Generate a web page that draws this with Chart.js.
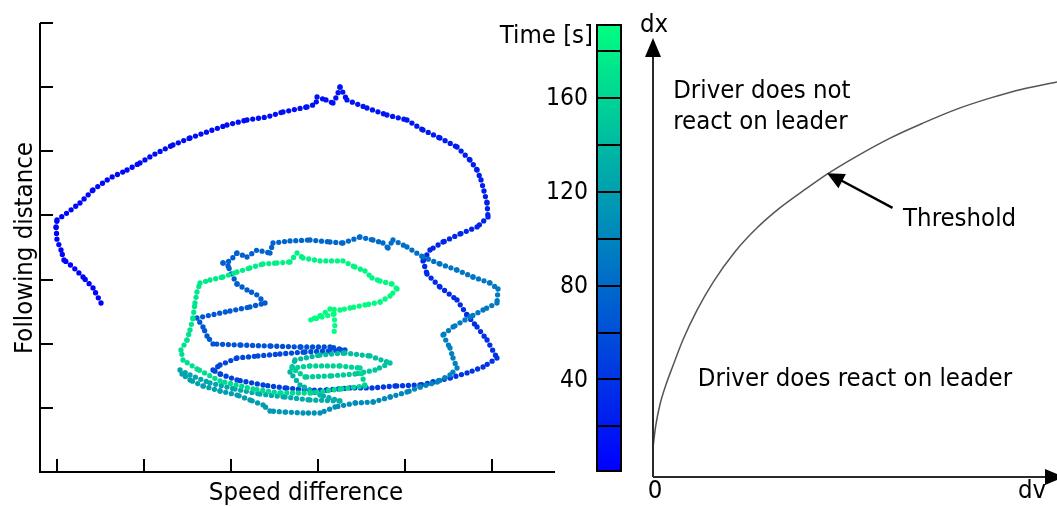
<!DOCTYPE html>
<html>
<head>
<meta charset="utf-8">
<script src="https://cdn.jsdelivr.net/npm/chart.js@4.4.1/dist/chart.umd.min.js"></script>
<style>
  html, body { margin: 0; padding: 0; background: #fff; }
  #wrap { position: relative; width: 1057px; height: 506px; }
  #wrap canvas { position: absolute; left: 0; top: 0; }
</style>
</head>
<body>
<div id="wrap">
  <canvas id="trajChart" width="1057" height="506"></canvas>
  <canvas id="barChart" width="1057" height="506"></canvas>
  <canvas id="schemeChart" width="1057" height="506"></canvas>
</div>
<script>
// follower trajectory in the (speed difference, following distance) plane
const speedDiff = [
  -14.94, -15.86, -17.01, -18.16, -19.20, -19.54, -20.00, -20.11, -20.00, -18.85,
  -17.36, -15.86, -13.91, -11.95, -10.46, -8.97, -6.67, -4.71, -2.76, -0.46,
  1.84, 4.14, 5.98, 8.74, 9.77, 9.89, 10.92, 11.72, 12.18, 12.53,
  13.33, 15.63, 17.93, 20.23, 22.07, 24.02, 25.98, 27.47, 28.28, 28.74,
  29.08, 29.43, 29.54, 28.28, 26.32, 24.37, 22.87, 22.07, 22.53, 24.02,
  25.98, 27.13, 28.28, 29.43, 30.57, 28.97, 27.13, 25.17, 23.22, 21.72,
  18.85, 16.21, 13.68, 10.92, 9.08, 6.21, 3.68, 0.69, -1.26, -2.07,
  -1.26, 0.69, 3.10, 5.63, 8.51, 11.38, 13.10, 11.38, 7.93, 4.48,
  1.03, -2.07, -2.76, -3.22, -3.91, -0.11, 2.18, 3.91, 2.99, 1.84,
  0.69, 0.11, -0.34, -0.92, -0.11, 0.69, 1.84, 2.99, 4.48, 4.83,
  6.78, 9.08, 11.38, 12.87, 14.83, 16.32, 17.47, 18.05, 18.62, 20.23,
  22.07, 24.02, 25.98, 27.82, 29.77, 30.69, 30.57, 28.97, 27.47, 25.52,
  24.37, 25.17, 25.52, 25.98, 25.17, 23.68, 21.72, 20.23, 18.28, 16.32,
  14.25, 11.95, 10.23, 8.28, 6.21, 4.48, 3.68, 2.18, 0.69, -1.26,
  -3.22, -4.71, -5.63, -5.86, -4.71, -2.41, 0.46, 3.33, 6.21, 9.08,
  12.53, 10.23, 7.93, 6.78, 7.36, 10.23, 13.10, 15.98, 18.28, 16.55,
  14.25, 11.38, 8.51, 7.01, 9.08, 12.53, 14.83, 15.40, 12.53, 9.08,
  5.63, 2.53, -1.26, -3.91, -5.52, -5.75, -5.06, -4.71, -4.37, -4.14,
  -3.91, -3.56, -2.41, -0.92, 0.69, 2.18, 3.68, 5.29, 6.78, 7.59,
  8.28, 10.23, 12.87, 14.25, 15.40, 16.21, 17.13, 18.51, 19.08, 18.28,
  17.13, 15.40, 13.68, 12.53, 11.38, 10.23, 9.08, 11.84, 11.95, 11.84
];
const followDist = [
  26.35, 28.69, 30.40, 31.96, 33.05, 34.61, 36.17, 38.20, 39.29, 40.38,
  41.94, 43.97, 45.84, 47.08, 48.18, 49.42, 50.98, 52.07, 53.01, 54.10,
  54.88, 55.35, 56.13, 56.91, 57.37, 58.47, 58.00, 57.53, 58.62, 60.03,
  58.00, 56.75, 55.66, 54.88, 53.32, 52.07, 50.67, 48.64, 47.08, 45.53,
  43.81, 41.94, 39.76, 38.20, 37.11, 35.86, 34.61, 32.90, 30.87, 28.84,
  26.82, 24.48, 22.61, 20.58, 17.77, 16.37, 15.44, 14.66, 14.03, 13.56,
  13.41, 13.10, 13.10, 12.78, 12.78, 13.10, 13.56, 14.34, 15.28, 15.90,
  16.68, 17.77, 18.09, 18.40, 18.71, 18.87, 19.02, 19.49, 19.49, 19.64,
  19.80, 19.96, 21.20, 22.61, 24.01, 25.10, 25.73, 26.35, 27.60, 28.38,
  29.31, 30.71, 32.12, 32.59, 32.90, 34.14, 33.52, 34.61, 34.14, 35.70,
  36.02, 36.17, 35.86, 35.70, 36.64, 36.17, 35.70, 34.92, 36.17, 35.08,
  33.52, 32.43, 31.49, 30.40, 29.47, 28.53, 26.35, 25.26, 24.17, 22.61,
  21.36, 19.33, 17.77, 16.21, 15.12, 14.03, 13.25, 12.47, 11.69, 10.91,
  10.76, 10.13, 9.20, 9.20, 9.35, 9.51, 10.45, 11.23, 12.00, 12.63,
  13.41, 14.34, 15.28, 15.90, 15.12, 13.88, 12.94, 12.16, 11.69, 11.23,
  11.07, 12.00, 13.56, 15.59, 17.46, 18.24, 18.55, 18.09, 16.99, 15.90,
  15.28, 14.97, 14.81, 16.21, 16.53, 16.53, 16.21, 13.41, 12.94, 12.32,
  12.32, 12.94, 14.19, 16.06, 17.46, 19.02, 20.58, 22.14, 24.01, 26.35,
  28.06, 29.47, 29.93, 30.40, 31.18, 31.81, 32.43, 32.59, 32.74, 34.14,
  33.36, 32.90, 32.90, 31.96, 31.34, 30.25, 29.78, 29.31, 28.53, 27.44,
  26.50, 26.04, 25.57, 25.26, 25.41, 24.32, 23.70, 24.63, 22.92, 21.67
];
const timeSec = [
  1, 1.5, 2, 2.5, 3, 3.5, 4, 4.5, 5, 5.5,
  6, 6.5, 7, 7.5, 8, 8.5, 9, 9.5, 10, 10.5,
  11, 11.5, 12, 12.5, 13, 13.3, 13.6, 14, 14.3, 14.6,
  15, 16, 17, 18, 19, 20, 21, 22, 23, 23.5,
  24, 25, 26, 27, 28, 29, 30, 31, 32, 33,
  34, 35, 36, 37, 38, 39, 40, 41, 42, 42.5,
  43, 44, 45, 46, 47, 48, 49, 50, 51, 52,
  53, 54, 55, 56, 57, 58, 59, 60, 61, 62,
  63, 64, 65, 66, 67, 68, 68.5, 69, 69.5, 70,
  70.5, 71, 71.5, 72, 72.5, 73, 73.5, 74, 74.5, 75,
  76, 77, 78, 79, 80, 81, 82, 82.5, 83, 84,
  85, 86, 87, 88, 89, 90, 91, 92, 93, 94,
  95, 96, 97, 98, 99, 100, 101, 102, 103, 104,
  105, 107, 109, 111, 113, 115, 117, 118, 119, 120,
  121, 122, 123, 124, 125, 126, 127, 128, 129, 130,
  131, 132, 134, 136, 138, 140, 142, 144, 146, 148,
  150, 152, 154, 155, 156, 157, 158, 160, 161, 162,
  163, 164, 165, 166, 167, 168, 169, 170, 171, 172,
  173, 174, 175, 176, 177, 178, 179, 180, 180.5, 181,
  181.5, 182, 183, 184, 184.5, 185, 185.5, 186, 186.5, 187,
  187.5, 188, 188.5, 189, 189.5, 190, 190.5, 190.7, 190.9, 191
];
const speedTicks = [-20, -10, 0, 10, 20, 30];
const distTicks = [10, 20, 30, 40, 50, 60, 70];

// colorbar
const timeEdges = [1, 20, 40, 60, 80, 100, 120, 140, 160, 180, 191];
const timeTicks = [40, 80, 120, 160];

// schematic threshold curve dx(dv)
const thresholdDv = [0, 0.07, 0.17, 0.32, 0.50, 0.74, 1.09, 1.49, 2.03, 2.57, 3.14, 3.81, 4.31, 5.05, 5.87, 6.68, 7.52, 8.34, 9.16, 10];
const thresholdDx = [0.68, 1.18, 1.64, 2.10, 2.55, 3.12, 3.80, 4.44, 5.13, 5.67, 6.13, 6.58, 6.90, 7.31, 7.72, 8.06, 8.38, 8.63, 8.84, 9.00];

const FONT = '"DejaVu Sans Condensed", "DejaVu Sans", Verdana, sans-serif';
const timeMin = timeEdges[0];
const timeMax = timeEdges[timeEdges.length - 1];

// matplotlib-style "winter" map: blue -> spring green
function winter(t) {
  const f = Math.min(1, Math.max(0, (t - timeMin) / (timeMax - timeMin)));
  return `rgb(0, ${Math.round(255 * f)}, ${Math.round(255 * (1 - 0.5 * f))})`;
}

Chart.defaults.font.family = FONT;
Chart.defaults.animation = false;

// ---------- left: trajectory ----------
const trajAxes = {
  id: 'trajAxes',
  afterDraw(chart) {
    const { ctx, chartArea: a, scales: { x, y } } = chart;
    ctx.save();
    ctx.strokeStyle = '#000';
    ctx.lineWidth = 2;
    ctx.beginPath();
    ctx.moveTo(a.left, a.top);
    ctx.lineTo(a.left, a.bottom);
    ctx.lineTo(a.right, a.bottom);
    distTicks.forEach(v => {
      const py = Math.round(y.getPixelForValue(v));
      ctx.moveTo(a.left, py);
      ctx.lineTo(a.left + 13, py);
    });
    speedTicks.forEach(v => {
      const px = Math.round(x.getPixelForValue(v));
      ctx.moveTo(px, a.bottom);
      ctx.lineTo(px, a.bottom - 13);
    });
    ctx.stroke();

    ctx.fillStyle = '#000';
    ctx.font = '25.5px ' + FONT;
    ctx.textAlign = 'center';
    ctx.textBaseline = 'alphabetic';
    ctx.fillText('Speed difference', a.left + 266, 500);
    ctx.translate(32, 248);
    ctx.rotate(-Math.PI / 2);
    ctx.fillText('Following distance', 0, 0);
    ctx.restore();
  }
};

new Chart(document.getElementById('trajChart'), {
  type: 'line',
  data: {
    datasets: [{
      data: speedDiff.map((v, i) => ({ x: v, y: followDist[i] })),
      showLine: true,
      borderWidth: 5.3,
      borderCapStyle: 'round',
      borderDash: [0, 5.8],
      pointRadius: 0,
      tension: 0,
      segment: {
        borderColor: c => winter((timeSec[c.p0DataIndex] + timeSec[c.p1DataIndex]) / 2)
      }
    }]
  },
  options: {
    responsive: false,
    layout: { padding: { left: 40, top: 23, right: 502, bottom: 34 } },
    plugins: { legend: { display: false }, tooltip: { enabled: false } },
    scales: {
      x: { type: 'linear', min: -20 - 17 / 8.7, max: 30 + 63 / 8.7, display: false },
      y: { type: 'linear', min: 0, max: 70, display: false }
    }
  },
  plugins: [trajAxes]
});

// ---------- middle: colorbar ----------
const barDecor = {
  id: 'barDecor',
  afterDatasetsDraw(chart) {
    const { ctx, chartArea: a, scales: { y } } = chart;
    ctx.save();
    ctx.strokeStyle = '#000';
    ctx.lineWidth = 2;
    ctx.beginPath();
    timeEdges.slice(1, -1).forEach(v => {
      const py = Math.round(y.getPixelForValue(v));
      ctx.moveTo(a.left, py);
      ctx.lineTo(a.right, py);
    });
    ctx.stroke();
    ctx.strokeRect(a.left, a.top, a.right - a.left, a.bottom - a.top);

    ctx.fillStyle = '#000';
    ctx.font = '24.5px ' + FONT;
    ctx.textAlign = 'right';
    ctx.textBaseline = 'middle';
    timeTicks.forEach(v => ctx.fillText(String(v), a.left - 9, y.getPixelForValue(v) + 1));
    ctx.font = '25.5px ' + FONT;
    ctx.textBaseline = 'alphabetic';
    ctx.fillText('Time [s]', a.left - 4, a.top + 18);
    ctx.restore();
  }
};

new Chart(document.getElementById('barChart'), {
  type: 'bar',
  data: {
    labels: ['t'],
    datasets: [{
      data: [[timeMin, timeMax]],
      backgroundColor: c => {
        const a = c.chart.chartArea;
        if (!a) return winter(timeMin);
        const g = c.chart.ctx.createLinearGradient(0, a.bottom, 0, a.top);
        g.addColorStop(0, winter(timeMin));
        g.addColorStop(1, winter(timeMax));
        return g;
      },
      borderWidth: 0,
      categoryPercentage: 1,
      barPercentage: 1
    }]
  },
  options: {
    responsive: false,
    layout: { padding: { left: 597, top: 25, right: 436, bottom: 35 } },
    plugins: { legend: { display: false }, tooltip: { enabled: false } },
    scales: {
      x: { display: false },
      y: { min: timeMin, max: timeMax, display: false }
    }
  },
  plugins: [barDecor]
});

// ---------- right: reaction threshold sketch ----------
function arrowHead(ctx, tx, ty, dx, dy, len, half) {
  const n = Math.hypot(dx, dy), ux = dx / n, uy = dy / n;
  ctx.beginPath();
  ctx.moveTo(tx, ty);
  ctx.lineTo(tx - ux * len - uy * half, ty - uy * len + ux * half);
  ctx.lineTo(tx - ux * len + uy * half, ty - uy * len - ux * half);
  ctx.closePath();
  ctx.fill();
}

const schemeDecor = {
  id: 'schemeDecor',
  afterDraw(chart) {
    const { ctx, chartArea: a, scales: { x, y } } = chart;
    ctx.save();
    ctx.strokeStyle = '#2a2a2a';
    ctx.fillStyle = '#000';
    ctx.lineWidth = 2;
    ctx.beginPath();
    ctx.moveTo(a.left, a.bottom);
    ctx.lineTo(a.left, a.top + 15);
    ctx.moveTo(a.left, a.bottom);
    ctx.lineTo(a.right + 2, a.bottom);
    ctx.stroke();
    arrowHead(ctx, a.left, a.top, 0, -1, 19, 8);
    arrowHead(ctx, a.right + 7, a.bottom, 1, 0, 19, 8);

    // pointer to the threshold curve
    const tipX = x.getPixelForValue(4.31), tipY = y.getPixelForValue(6.92);
    const tailX = x.getPixelForValue(5.93), tailY = y.getPixelForValue(6.13);
    ctx.lineWidth = 2.4;
    ctx.strokeStyle = '#000';
    ctx.beginPath();
    ctx.moveTo(tailX, tailY);
    ctx.lineTo(tipX + 10, tipY + 5);
    ctx.stroke();
    arrowHead(ctx, tipX, tipY, tipX - tailX, tipY - tailY, 17, 8);

    ctx.font = '25.5px ' + FONT;
    ctx.textBaseline = 'alphabetic';
    ctx.textAlign = 'left';
    ctx.fillText('dx', a.left - 13, 32);
    ctx.fillText('dv', 1018, 498);
    ctx.fillText('Driver does not', x.getPixelForValue(0.5), y.getPixelForValue(8.63));
    ctx.fillText('react on leader', x.getPixelForValue(0.5), y.getPixelForValue(7.93));
    ctx.fillText('Threshold', x.getPixelForValue(6.19), y.getPixelForValue(5.72));
    ctx.fillText('Driver does react on leader', x.getPixelForValue(1.11), y.getPixelForValue(2.07));
    ctx.textAlign = 'center';
    ctx.fillText('0', a.left + 2, 498);
    ctx.restore();
  }
};

new Chart(document.getElementById('schemeChart'), {
  type: 'line',
  data: {
    datasets: [{
      data: thresholdDv.map((v, i) => ({ x: v, y: thresholdDx[i] })),
      borderColor: '#555',
      borderWidth: 1.5,
      pointRadius: 0,
      cubicInterpolationMode: 'monotone',
      clip: false
    }]
  },
  options: {
    responsive: false,
    layout: { padding: { left: 653, top: 38, right: 0, bottom: 29 } },
    plugins: { legend: { display: false }, tooltip: { enabled: false } },
    scales: {
      x: { type: 'linear', min: 0, max: 10, display: false },
      y: { type: 'linear', min: 0, max: 10, display: false }
    }
  },
  plugins: [schemeDecor]
});
</script>
</body>
</html>
